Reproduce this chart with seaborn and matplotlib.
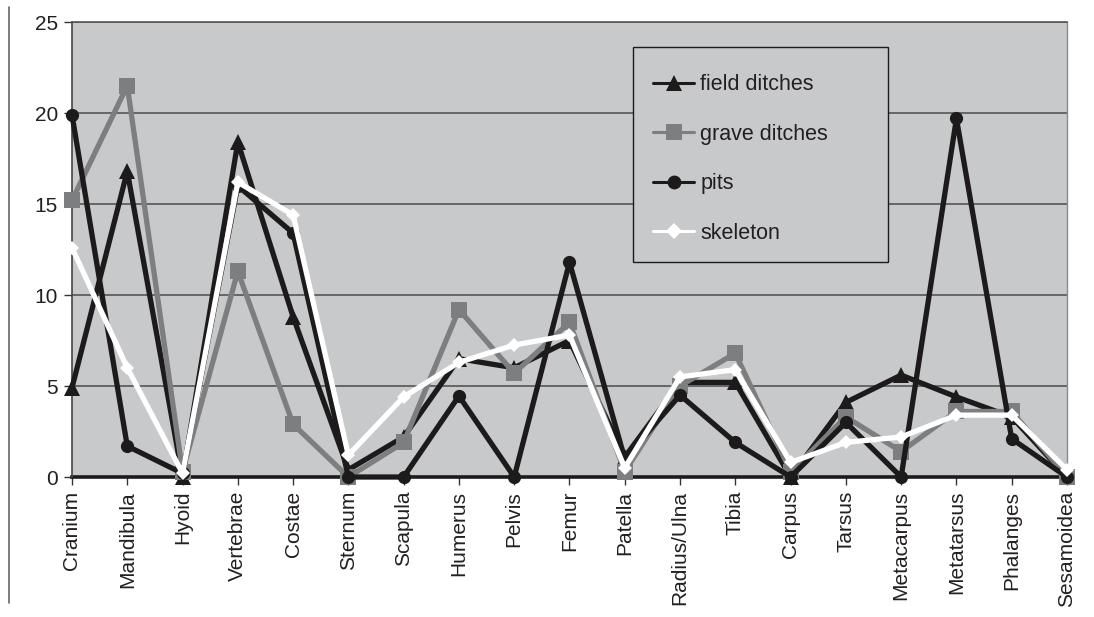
import matplotlib
matplotlib.use("Agg")
import matplotlib.pyplot as plt
from matplotlib.lines import Line2D
from matplotlib.patches import Rectangle
import seaborn as sns
import pandas as pd

elements = ["Cranium", "Mandibula", "Hyoid", "Vertebrae", "Costae", "Sternum",
            "Scapula", "Humerus", "Pelvis", "Femur", "Patella", "Radius/Ulna",
            "Tibia", "Carpus", "Tarsus", "Metacarpus", "Metatarsus",
            "Phalanges", "Sesamoidea"]

field_ditches = [4.9, 16.8, 0.0, 18.4, 8.8, 0.4, 2.2, 6.5, 6.0, 7.5, 1.1,
                 5.2, 5.2, 0.0, 4.1, 5.6, 4.4, 3.3, 0.0]
grave_ditches = [15.2, 21.5, 0.3, 11.3, 2.9, 0.0, 1.9, 9.2, 5.7, 8.5, 0.3,
                 5.0, 6.8, 0.3, 3.3, 1.4, 3.6, 3.6, 0.0]
pits = [19.9, 1.7, 0.2, 16.0, 13.4, 0.0, 0.0, 4.45, 0.0, 11.8, 1.0,
        4.5, 1.9, 0.0, 3.0, 0.0, 19.7, 2.1, 0.0]
skeleton = [12.6, 6.0, 0.2, 16.2, 14.4, 1.2, 4.4, 6.3, 7.25, 7.8, 0.5,
            5.5, 5.9, 0.8, 1.9, 2.2, 3.4, 3.4, 0.4]

series = {
    "field ditches": (field_ditches, "#1c1a1a", "^", 11.5),
    "grave ditches": (grave_ditches, "#7d7e80", "s", 11),
    "pits": (pits, "#1c1a1a", "o", 9.5),
    "skeleton": (skeleton, "#ffffff", "D", 7.5),
}

sns.set_theme(style="white")
plt.rcParams["font.family"] = ["Liberation Sans", "DejaVu Sans"]

fig = plt.figure(figsize=(10.94, 6.17), dpi=100)
ax = fig.add_axes([0.0658, 0.2269, 0.9095, 0.7374])
ax.set_facecolor("#c8c9cb")

pos = list(range(len(elements)))
for name, (vals, color, marker, ms) in series.items():
    df = pd.DataFrame({"x": pos, "y": vals})
    sns.lineplot(data=df, x="x", y="y", ax=ax, color=color, linewidth=3.8,
                 marker=marker, markersize=ms, markeredgewidth=0,
                 markerfacecolor=color, legend=False, zorder=3,
                 clip_on=False)

ax.set_xlim(0, len(elements) - 1)
ax.set_ylim(0, 25)
ax.set_yticks(range(0, 26, 5))
ax.set_xticks(pos)
ax.set_xticklabels(elements, rotation=90, fontsize=15, color="#231f20")
ax.tick_params(axis="y", labelsize=15, labelcolor="#231f20")
ax.tick_params(axis="both", direction="out", length=6, width=1,
               color="#333333", bottom=True, left=True, pad=4)
ax.set_xlabel("")
ax.set_ylabel("")

ax.yaxis.grid(True, color="#555555", linewidth=1.2, zorder=1)
ax.xaxis.grid(False)
ax.set_axisbelow(True)

ax.spines["bottom"].set_color("#1c1a1a")
ax.spines["bottom"].set_linewidth(2.6)
ax.spines["bottom"].set_zorder(2)
ax.spines["left"].set_color("#444444")
ax.spines["left"].set_linewidth(1.2)
ax.spines["top"].set_color("#555555")
ax.spines["top"].set_linewidth(1.2)
ax.spines["right"].set_color("#8a8a8a")
ax.spines["right"].set_linewidth(1.0)

# legend box
ax.add_patch(Rectangle((0.5638, 0.4725), 0.2563, 0.4725,
                       transform=ax.transAxes, facecolor="#c8c9cb",
                       edgecolor="#1c1a1a", linewidth=1.0, zorder=4))
handles = [Line2D([0], [0], color=c, linewidth=2.2, marker=m,
                  markersize=ms * 1.05, markeredgewidth=0, markerfacecolor=c)
           for (_, c, m, ms) in series.values()]
leg = ax.legend(handles, list(series.keys()), loc="upper left",
                bbox_to_anchor=(0.584, 0.885), frameon=False,
                fontsize=15.5, labelspacing=1.32, handlelength=1.9,
                handletextpad=0.3, borderpad=0, borderaxespad=0)
for t in leg.get_texts():
    t.set_color("#231f20")
leg.set_zorder(5)

fig.add_artist(Line2D([0.0082, 0.0082], [0.022, 0.988],
                      transform=fig.transFigure, color="#666666",
                      linewidth=1.2))

fig.savefig("out.png", dpi=100, facecolor="white")
